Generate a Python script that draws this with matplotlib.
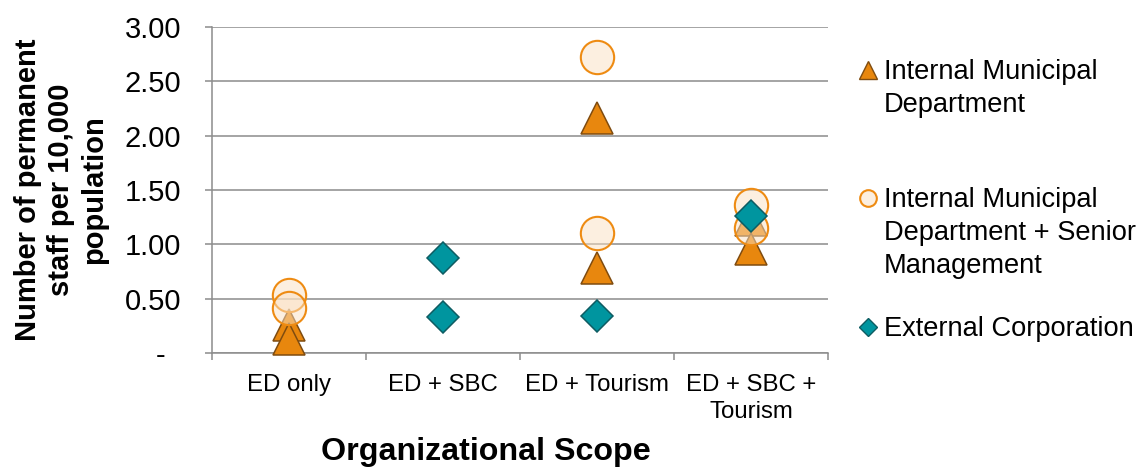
import numpy as np
import matplotlib
matplotlib.use('Agg')
import matplotlib.pyplot as plt
from matplotlib.colors import to_rgba

plt.rcParams['font.family'] = ['Liberation Sans', 'DejaVu Sans']

# categories on the x axis
scopes = ['ED only', 'ED + SBC', 'ED + Tourism', 'ED + SBC +\nTourism']

# staff per 10,000 population, one point per municipality
imd_scope = [0, 0, 2, 2, 3, 3]
imd_vals = [0.26, 0.13, 2.16, 0.78, 1.22, 0.955]

imd_sm_scope = [0, 0, 2, 2, 3, 3]
imd_sm_vals = [0.53, 0.41, 2.72, 1.10, 1.36, 1.15]

ext_scope = [1, 1, 2, 3]
ext_vals = [0.87, 0.33, 0.34, 1.26]

series_names = ['Internal Municipal\nDepartment',
                'Internal Municipal\nDepartment + Senior\nManagement',
                'External Corporation']

y_ticks = [0, 0.5, 1.0, 1.5, 2.0, 2.5, 3.0]
y_ticklabels = ['-\u2007', '0.50', '1.00', '1.50', '2.00', '2.50', '3.00']

grid_col = '#8C8C8C'
tri_face, tri_edge = '#E8870E', '#7F4C10'
circ_face, circ_edge = to_rgba('#FBE1C3', 0.5), '#EE8B12'
dia_face, dia_edge = '#00959F', '#0E5C62'

W, H = 1143, 468
fig = plt.figure(figsize=(W / 100, H / 100), dpi=100)
ax = fig.add_axes([212 / W, 1 - 353 / H, 616 / W, 326 / H])

ax.set_xlim(-0.5, len(scopes) - 0.5)
ax.set_ylim(0, 3)

# gridlines + axes
ax.set_yticks(y_ticks)
ax.set_yticklabels(y_ticklabels, fontsize=21)
ax.yaxis.grid(True, color=grid_col, linewidth=1.1)
ax.set_axisbelow(True)
for s in ['top', 'right']:
    ax.spines[s].set_visible(False)
for s in ['left', 'bottom']:
    ax.spines[s].set_color(grid_col)
    ax.spines[s].set_linewidth(1.1)
ax.tick_params(axis='y', length=5, width=1.1, color=grid_col, pad=17, labelcolor='black')

ax.set_xticks(np.arange(-0.5, len(scopes)))
ax.set_xticklabels([])
ax.set_xticks(np.arange(len(scopes)), minor=True)
ax.set_xticklabels(scopes, minor=True, fontsize=17.3, linespacing=1.3)
ax.tick_params(axis='x', which='major', length=5, width=1.1, color=grid_col)
ax.tick_params(axis='x', which='minor', length=0, pad=15)

# points
ax.plot(imd_scope, imd_vals, linestyle='none', marker='^', markersize=23,
        markerfacecolor=tri_face, markeredgecolor=tri_edge, markeredgewidth=1.1,
        clip_on=False, zorder=3)
ax.plot(imd_sm_scope, imd_sm_vals, linestyle='none', marker='o', markersize=24,
        markerfacecolor=circ_face, markeredgecolor=circ_edge, markeredgewidth=1.5,
        clip_on=False, zorder=4)
ax.plot(ext_scope, ext_vals, linestyle='none', marker='D', markersize=16.5,
        markerfacecolor=dia_face, markeredgecolor=dia_edge, markeredgewidth=1.1,
        clip_on=False, zorder=5)

# axis titles
fig.text(61 / W, 1 - 190 / H, 'Number of permanent\nstaff per 10,000\npopulation',
         rotation=90, ha='center', va='center', fontsize=21, fontweight='bold',
         multialignment='center', linespacing=1.22)
fig.text(486 / W, 1 - 452 / H, 'Organizational Scope', ha='center', va='center',
         fontsize=23.2, fontweight='bold')

# legend, marker aligned to the first line of each entry
leg_markers = [
    dict(marker='^', markersize=13.5, markerfacecolor=tri_face, markeredgecolor=tri_edge, markeredgewidth=1.0),
    dict(marker='o', markersize=12, markerfacecolor=circ_face, markeredgecolor=circ_edge, markeredgewidth=1.5),
    dict(marker='D', markersize=9, markerfacecolor=dia_face, markeredgecolor=dia_edge, markeredgewidth=1.0),
]
leg_y = [70, 198, 327]
for name, mk, yy in zip(series_names, leg_markers, leg_y):
    ax.plot([868 / W], [1 - yy / H], transform=fig.transFigure, linestyle='none',
            clip_on=False, **mk)
    fig.text(884 / W, 1 - (yy - 11) / H, name, ha='left', va='top',
             fontsize=19.6, linespacing=1.35)

fig.savefig('out.png', dpi=100)
